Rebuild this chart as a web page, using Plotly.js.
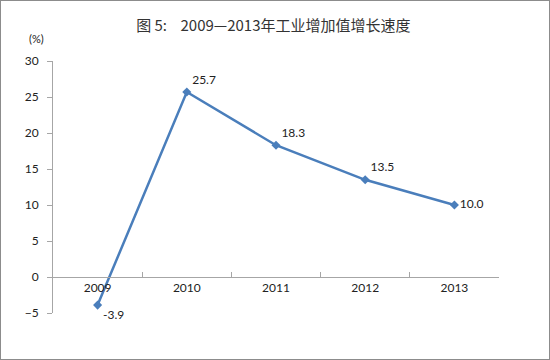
<!DOCTYPE html>
<html><head><meta charset="utf-8">
<script src="https://cdn.plot.ly/plotly-3.0.1.min.js"></script>
<style>
html,body{margin:0;padding:0;background:#fff;}
#wrap{width:550px;height:360px;box-sizing:border-box;border:1px solid #8c8c8c;overflow:hidden;}
#chart{width:548px;height:358px;}
</style></head>
<body><div id="wrap"><div id="chart"></div></div>
<script>
const years = ['2009','2010','2011','2012','2013'];
const growth = [-3.9, 25.7, 18.3, 13.5, 10.0];
const labels = ['-3.9','25.7','18.3','13.5','10.0'];
const yTicks = [-5,0,5,10,15,20,25,30];

const font = 'Lato, "Open Sans", "Noto Sans", sans-serif';
const trace = {
  x: years, y: growth, type: 'scatter', mode: 'lines+markers+text',
  text: labels,
  textposition: ['bottom right','top right','top right','top right','middle right'],
  textfont: {family: font, size: 12, color: '#222'},
  line: {color: '#4a7ebb', width: 2.5},
  marker: {symbol: 'diamond', size: 7, color: '#4a7ebb'},
  cliponaxis: false, hoverinfo: 'none'
};
const layout = {
  width: 548, height: 358,
  margin: {l: 52, r: 50, t: 60, b: 46},
  paper_bgcolor: '#fff', plot_bgcolor: '#fff',
  showlegend: false,
  font: {family: font, size: 12, color: '#222'},
  title: {text: '图 5:\u00a0\u00a0\u00a0\u00a02009—2013年工业增加值增长速度',
    font: {family: '"Noto Sans CJK SC", sans-serif', size: 15, color: '#333'},
    x: 0.497, xanchor: 'center', y: 0.93, yanchor: 'middle'},
  xaxis: {type: 'category', anchor: 'free', position: 5/35,
    showline: true, linecolor: '#a6a6a6', linewidth: 1,
    ticks: 'inside', ticklen: 5, tickcolor: '#a6a6a6', tickson: 'boundaries',
    showgrid: false, zeroline: false, range: [-0.5, 4.5],
    tickfont: {family: font, size: 12, color: '#222'}},
  yaxis: {range: [-5, 30], tickvals: yTicks, showline: true, linecolor: '#a6a6a6',
    ticks: 'outside', ticklen: 5, tickcolor: '#a6a6a6', showgrid: false,
    zeroline: false, ticklabelstandoff: 6,
    tickfont: {family: font, size: 12, color: '#222'}},
  annotations: [{text: '(%)', xref: 'paper', yref: 'paper', x: -0.038, y: 1.09,
    xanchor: 'center', yanchor: 'middle', showarrow: false,
    font: {family: font, size: 11, color: '#222'}}]
};
Plotly.newPlot('chart', [trace], layout, {staticPlot: true});
</script></body></html>
